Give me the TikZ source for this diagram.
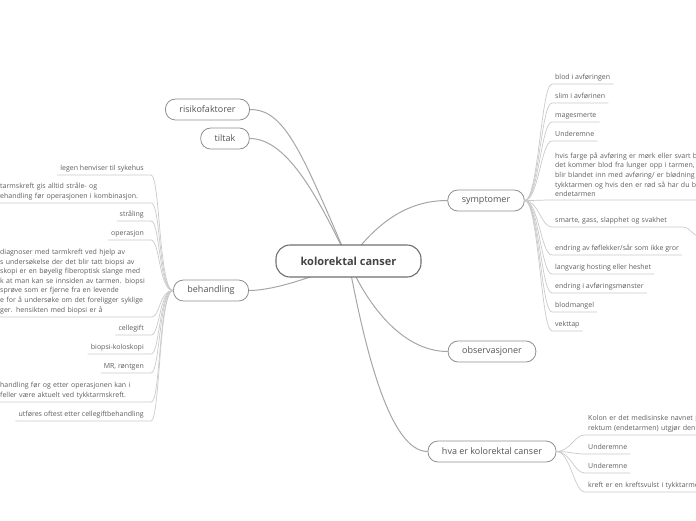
\documentclass[tikz,border=0pt]{standalone}
\usepackage{fontspec}
\setmainfont{Open Sans}
\usetikzlibrary{backgrounds}
\definecolor{txt}{HTML}{555555}
\definecolor{ltxt}{HTML}{5E5E5E}
\definecolor{roottxt}{HTML}{444444}
\definecolor{rootbord}{HTML}{707070}
\definecolor{bord}{HTML}{8E8E8E}
\definecolor{mainline}{HTML}{A6A6A6}
\definecolor{leafline}{HTML}{CACACA}
\begin{document}
\begin{tikzpicture}[x=1pt,y=-1pt,
  root/.style={draw=rootbord, line width=1.1pt, rounded corners=14pt, fill=white,
    minimum height=32pt, minimum width=145pt, inner sep=0pt,
    font=\fontsize{11}{13}\selectfont\bfseries, text=roottxt},
  topic/.style={draw=bord, line width=0.8pt, rounded corners=10pt, fill=white,
    minimum height=21pt, inner xsep=14pt, inner ysep=0pt,
    font=\fontsize{9}{11}\selectfont, text=txt},
  leaf/.style={font=\fontsize{7}{9.6}\selectfont, text=ltxt, inner xsep=3pt, inner ysep=3pt, align=left},
  one/.style={text depth=1.7pt, text height=5.3pt},
  leafR/.style={leaf, one, anchor=south west},
  leafL/.style={leaf, one, anchor=south east},
  leafM/.style={leaf, anchor=south west, inner xsep=0pt},
  conn/.style={draw=mainline, line width=1pt},
  lconn/.style={draw=leafline, line width=0.7pt},
]
\useasboundingbox (0,0) rectangle (696,520);
\clip (0,0) rectangle (696,520);

% main nodes
\node[root] (root) at (348.5,261) {kolorektal canser};
\node[topic] (ris) at (207.5,109.5) {risikofaktorer};
\node[topic] (til) at (225,138.5) {tiltak};
\node[topic] (beh) at (211,290.5) {behandling};
\node[topic] (sym) at (486,200.5) {symptomer};
\node[topic] (obs) at (492,351.5) {observasjoner};
\node[topic] (hva) at (492,451.5) {hva er kolorektal canser};

\begin{scope}[on background layer]
\draw[conn] (root.center) .. controls (301,151) and (285,109.5) .. (ris.east);
\draw[conn] (root.center) .. controls (315,190) and (285,138.5) .. (til.east);
\draw[conn] (root.center) .. controls (320,275) and (275,290.5) .. (beh.east);
\draw[conn] (root.center) .. controls (375,225) and (405,200.5) .. (sym.west);
\draw[conn] (root.center) .. controls (365,300) and (400,351.5) .. (obs.west);
\draw[conn] (root.center) .. controls (365,350) and (390,451.5) .. (hva.west);
\end{scope}

% symptomer children
\node[leafR] (s1) at (552,84) {blod i avføringen};
\node[leafR] (s2) at (552,103) {slim i avførinen};
\node[leafR] (s3) at (552,122) {magesmerte};
\node[leafR] (s4) at (552,141) {Underemne};
\node[leafM, inner xsep=3pt, text width=200pt] (s5) at (552,200) {hvis farge på avføring er mørk eller svart be\\det kommer blod fra lunger opp i tarmen, s\\blir blandet inn med avføring/ er blødning i\\tykktarmen og hvis den er rød så har du bl\\endetarmen};
\node[leafR, text width=124pt] (s6) at (552,227) {smarte, gass, slapphet og svakhet};
\node[leafR] (s7) at (552,255) {endring av føflekker/sår som ikke gror};
\node[leafR] (s8) at (552,274) {langvarig hosting eller heshet};
\node[leafR] (s9) at (552,293) {endring i avføringsmønster};
\node[leafR] (s10) at (552,312) {blodmangel};
\node[leafR] (s11) at (552,331) {vekttap};
\coordinate (offc) at (700,236);

\foreach \c in {s1,s2,s3,s4,s5,s6,s7,s8,s9,s10,s11}{
  \draw[lconn] (sym.east) .. controls +(14,0) and +(-11,0) .. (\c.south west) -- (\c.south east);
}
\draw[lconn] (s6.south east) .. controls +(9,0) and +(-9,0) .. (offc);

% hva children
\node[leafM, inner xsep=3pt, text width=200pt] (h1) at (585,435) {Kolon er det medisinske navnet p\\rektum (endetarmen) utgjør den};
\node[leafR] (h2) at (585,454) {Underemne};
\node[leafR] (h3) at (585,473) {Underemne};
\node[leafR, text width=200pt] (h4) at (585,492) {kreft er en kreftsvulst i tykktarme};
\foreach \c in {h1,h2,h3,h4}{
  \draw[lconn] (hva.east) .. controls +(14,0) and +(-11,0) .. (\c.south west) -- (\c.south east);
}

% behandling children
\node[leafL] (b1) at (147,175) {legen henviser til sykehus};
\node[leafM, text width=147pt] (b2) at (0,203) {tarmskreft gis alltid stråle- og\\ehandling før operasjonen i kombinasjon.};
\node[leafL] (b3) at (147,221) {stråling};
\node[leafL] (b4) at (147,240) {operasjon};
\node[leafM, text width=147pt] (b5) at (0,317) {diagnoser med tarmkreft ved hjelp av\\s undersøkelse der det blir tatt biopsi av\\skopi er en bøyelig fiberoptisk slange med\\k at man kan se innsiden av tarmen. biopsi\\sprøve som er fjerne fra en levende\\e for å undersøke om det foreligger syklige\\ger. hensikten med biopsi er å};
\node[leafL] (b6) at (147,335) {cellegift};
\node[leafL] (b7) at (147,354) {biopsi-koloskopi};
\node[leafL] (b8) at (147,373) {MR, røntgen};
\node[leafM, text width=147pt] (b9) at (0,402) {handling før og etter operasjonen kan i\\feller være aktuelt ved tykktarmskreft.};
\node[leafL] (b10) at (147,421) {utføres oftest etter cellegiftbehandling};
\foreach \c in {b1,b2,b3,b4,b5,b6,b7,b8,b9,b10}{
  \draw[lconn] (beh.west) .. controls +(-14,0) and +(9,0) .. ([xshift=4pt]\c.south east) -- (\c.south west);
}
\end{tikzpicture}
\end{document}
